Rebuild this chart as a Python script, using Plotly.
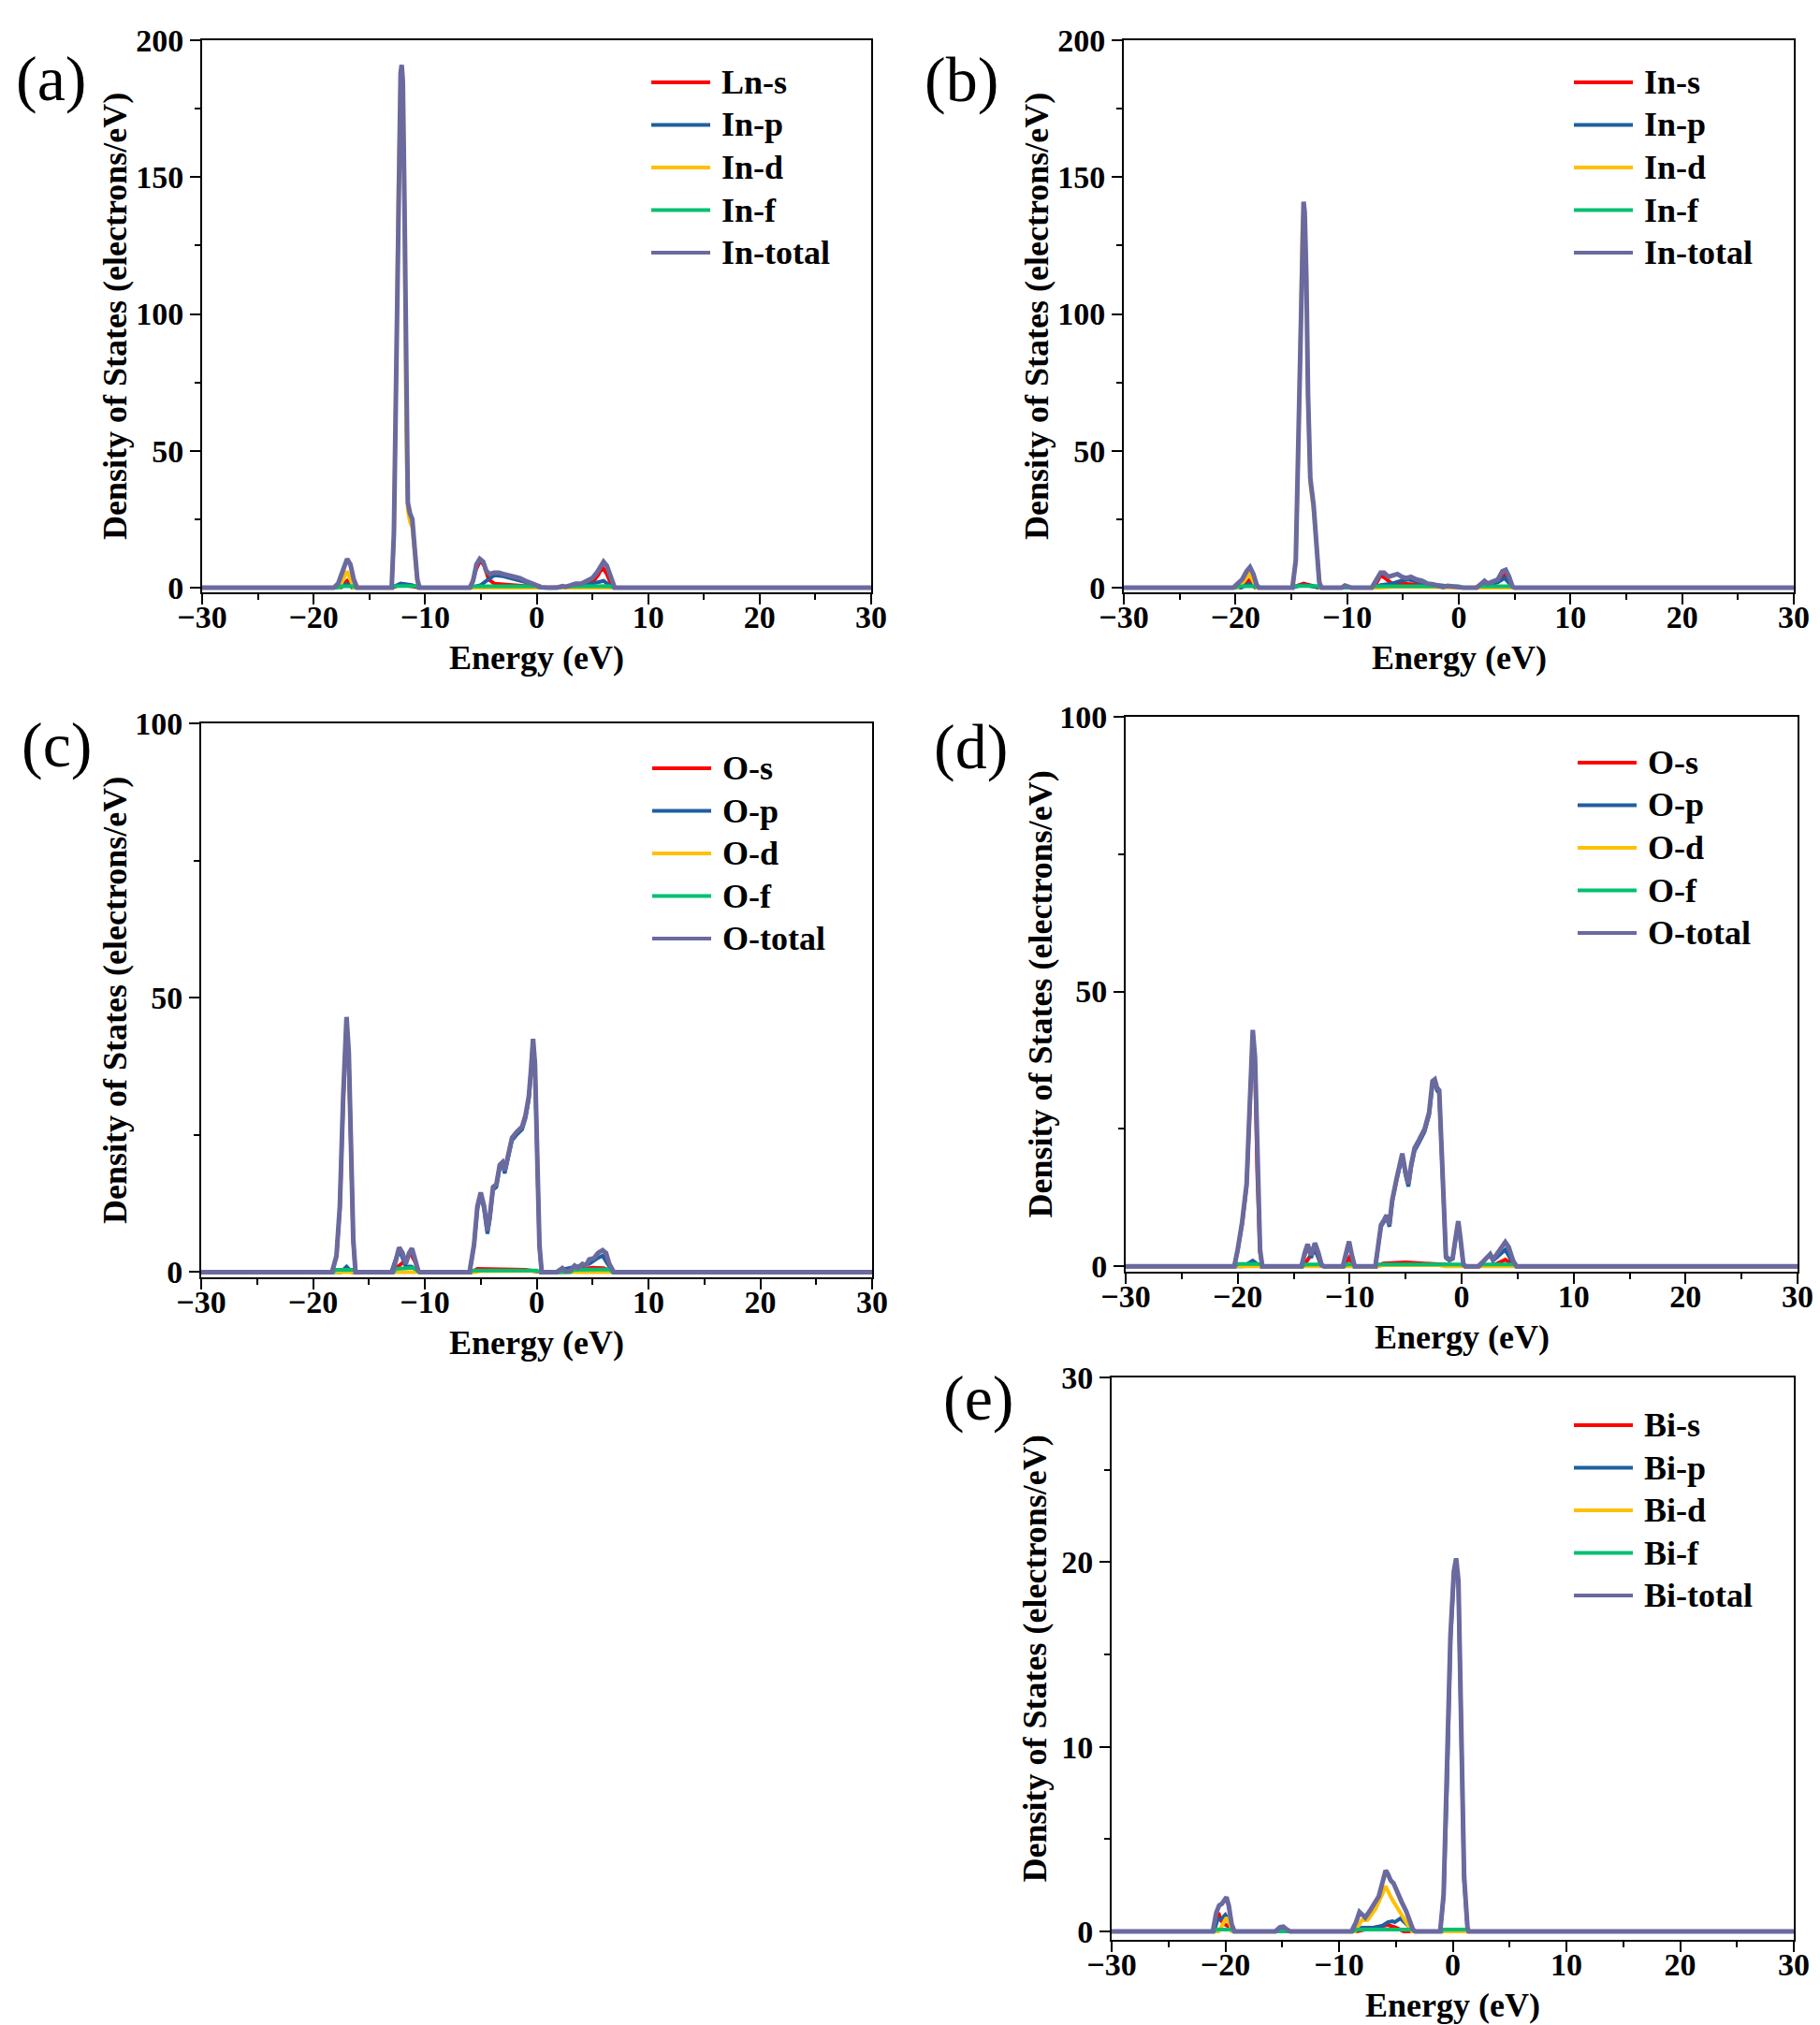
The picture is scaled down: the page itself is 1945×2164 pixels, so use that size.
import plotly.graph_objects as go

W, H = 1945, 2164
FONT = "Liberation Serif"
COLORS = ["#FF0000", "#1F5FA0", "#FFC000", "#00C070", "#6A6A9E"]
WIDTHS = [4, 4, 4, 4, 5]

# ---------------- (a) In ----------------
a_names = ["Ln-s", "In-p", "In-d", "In-f", "In-total"]
a_s_E = [-30, -17.6, -17.0, -16.5, -13, -12.2, -11.2, -10.5, -5.9, -5.4, -5.05, -4.7, -4.3, -3.8, -3, -2, -1, 0, 0.5,
         2, 3, 4, 5, 5.5, 5.9, 6.3, 6.8, 30]
a_s = [0, 0, 2.5, 0, 0, 1, 0.5, 0, 0, 7, 10, 8, 3, 1.5, 1.2, 1.0, 0.7, 0.3, 0,
       0, 0.3, 0.8, 2, 4.5, 7.5, 5, 0, 0]
a_p_E = [-30, -17.6, -17.0, -16.5, -13, -12.2, -11.2, -10.5, -5.8, -5, -4.5, -3.8, -3.0, -2.0, -1.0, 0, 0.5,
         2, 3, 4, 5, 6, 6.8, 30]
a_p = [0, 0, 1.5, 0, 0, 1.5, 1, 0, 0, 1, 2.5, 4.5, 4.2, 3.2, 2.0, 0.7, 0,
       0, 0.5, 0.8, 1.5, 2.5, 0, 0]
a_d_E = [-30, -17.7, -17.0, -16.4, -13.0, -12.8, -12.6, -12.4, -12.2, -12.1, -12.0, -11.85, -11.7, -11.55, -11.35,
         -11.15, -10.95, -10.7, -10.5, -5.5, -5, -3, 0, 0.5, 30]
a_d = [0, 0, 6, 0, 0, 18, 77, 146, 184, 187, 181, 136, 57, 28, 24,
       22, 13, 2, 0, 0, 0.3, 0.3, 0.2, 0, 0]
a_f_E = [-30, -17.8, -17.6, -16.4, -16.2, -13.1, -12.9, -10.7, -10.5, -5.9, -5.7, 0, 0.3, 2, 2.5, 6.5, 7, 30]
a_f = [0, 0, 0.5, 0.5, 0, 0, 0.6, 0.6, 0, 0, 0.5, 0.5, 0, 0, 0.4, 0.6, 0, 0]
a_t_E = [-30, -18.2, -17.8, -17.4, -17.0, -16.7, -16.4, -16.1, -13.0, -12.8, -12.6, -12.4, -12.2, -12.1, -12.0,
         -11.85, -11.7, -11.55, -11.35, -11.15, -10.95, -10.7, -10.5, -6.0, -5.7, -5.4, -5.1, -4.8, -4.5, -4.2,
         -3.8, -3.4, -3.0, -2.5, -2.0, -1.5, -1.0, -0.5, 0.0, 0.4, 1.0, 1.8, 2.3, 2.6, 3.0, 3.5, 4.0, 4.5, 5.0,
         5.4, 5.7, 6.0, 6.3, 6.6, 7.0, 30]
a_t = [0, 0, 1.5, 6.5, 10.5, 8.5, 3, 0, 0, 20, 80, 150, 188, 191, 185,
       140, 60, 31, 27, 25, 15, 3, 0, 0, 2.5, 8.5, 10.5, 9.5, 6, 5,
       5.5, 5.5, 5, 4.5, 4, 3.5, 2.5, 1.8, 1, 0.2, 0, 0, 0.6, 0.3, 0.8, 1.5, 1.5, 2.5, 3.5,
       5.5, 7.5, 9.5, 8, 4, 0, 0]

# ---------------- (b) In ----------------
b_names = ["In-s", "In-p", "In-d", "In-f", "In-total"]
b_s_E = [-30, -19.5, -19, -18.7, -18.2, -15, -13.9, -12.5, -7.6, -7.0, -6.6, -6.0, -5, -4, -3, -2, -1, 0,
         1.8, 2.3, 3, 3.8, 4.1, 4.5, 4.8, 30]
b_s = [0, 0, 2, 3, 0, 0, 1.5, 0, 0, 4.5, 3.5, 1.5, 1.5, 1.2, 1, 0.5, 0.3, 0,
       0, 1, 1, 3, 4.5, 2, 0, 0]
b_p_E = [-30, -19.5, -18.8, -18.2, -15, -13.9, -12.5, -7.6, -7, -6, -5.2, -4.5, -4, -3, -2, -1, 0, 0.4,
         1.8, 2.3, 2.7, 3.5, 4.1, 4.6, 4.9, 30]
b_p = [0, 0, 1.5, 0, 0, 1, 0, 0, 1, 1.5, 2.5, 3.0, 2.5, 1.5, 1, 0.5, 0.2, 0,
       0, 1.8, 1, 2, 3.5, 1, 0, 0]
b_d_E = [-30, -19.8, -19.2, -18.8, -18.5, -18.1, -14.9, -14.6, -14.35, -14.15, -14.0, -13.9, -13.8, -13.65, -13.5,
         -13.3, -13.0, -12.7, -12.4, -7, -6, -3, 0, 0.4, 30]
b_d = [0, 0, 2.5, 5, 3, 0, 0, 9.5, 53, 105, 133, 138, 134, 110, 68,
       38, 28, 13, 0, 0, 0.3, 0.3, 0.2, 0, 0]
b_f_E = [-30, -20, -19.8, -18, -17.8, -14.9, -14.7, -12.4, -12.2, -7.8, -7.6, 0, 0.3, 1.5, 1.7, 4.7, 5, 30]
b_f = [0, 0, 0.5, 0.5, 0, 0, 0.6, 0.6, 0, 0, 0.5, 0.5, 0, 0, 0.5, 0.5, 0, 0]
b_t_E = [-30, -20.2, -19.8, -19.4, -19.0, -18.7, -18.4, -18.1, -17.9, -14.9, -14.6, -14.35, -14.15, -14.0, -13.9,
         -13.8, -13.65, -13.5, -13.3, -13.0, -12.7, -12.5, -12.3, -10.5, -10.2, -9.9, -9.6, -7.8, -7.4, -7.0,
         -6.7, -6.3, -5.9, -5.5, -5.1, -4.7, -4.3, -3.8, -3.3, -2.8, -2.3, -1.8, -1.4, -1.0, -0.5, 0, 0.4, 1.6,
         2.0, 2.3, 2.6, 3.0, 3.5, 3.9, 4.2, 4.5, 4.8, 5.0, 30]
b_t = [0, 0, 1.5, 3, 6, 7.5, 5, 1, 0, 0, 10, 55, 108, 136, 141,
       137, 113, 70, 40, 30, 15, 2, 0, 0, 0.8, 0.3, 0, 0, 3, 5.5,
       5.5, 4.0, 4.5, 5, 4, 3.5, 4, 3, 2.5, 1.5, 1.2, 0.5, 0.2, 0.7, 0.5, 0.2, 0, 0,
       1.2, 2.5, 1.5, 2, 3, 6, 6.5, 4, 0.5, 0, 0]

# ---------------- (c) O ----------------
c_names = ["O-s", "O-p", "O-d", "O-f", "O-total"]
c_s_E = [-30, -18.3, -17.9, -17.6, -17.3, -17.0, -16.8, -16.6, -16.4, -16.2, -12.9, -12.4, -11.8, -11.3, -10.9,
         -10.5, -5.8, -5.3, -4, -3, -1, 0, 0.4, 2, 4, 5, 6, 6.8, 30]
c_s = [0, 0, 2.8, 11.5, 31, 45.5, 39, 21, 5.5, 0, 0, 1, 2, 3.5, 2,
       0, 0, 0.6, 0.6, 0.5, 0.4, 0.2, 0, 0, 0.6, 0.8, 0.7, 0, 0]
c_p_E = [-30, -17.5, -17, -16.5, -13, -12.3, -11.7, -11.2, -10.5, -6.0, -5.6, -5.3, -5.0, -4.7, -4.4, -4.2, -3.9,
         -3.6, -3.3, -3.05, -2.85, -2.6, -2.2, -1.8, -1.3, -1.0, -0.7, -0.5, -0.32, -0.15, 0.05, 0.25, 0.45,
         2, 2.3, 3.4, 4.7, 5.5, 5.9, 6.5, 6.9, 30]
c_p = [0, 0, 1, 0, 0, 4.2, 1, 1, 0, 0, 4.8, 11.5, 14, 11.5, 7, 9.5, 15,
       15.5, 19, 19.5, 18, 20.5, 24, 25, 26, 28, 31.5, 36.5, 42, 37.5, 19.5, 4.5, 0,
       0, 0.5, 1, 1.5, 2.6, 3, 1, 0, 0]
c_d_E = [-30, -5.5, -5, 0, 0.4, 30]
c_d = [0, 0, 0.2, 0.2, 0, 0]
c_f_E = [-30, -18.2, -18, -16.3, -16.1, -12.8, -12.6, -11, -10.5, -5.9, -5.7, 0, 0.3, 3, 3.3, 6.5, 6.8, 30]
c_f = [0, 0, 0.4, 0.4, 0, 0, 0.6, 0.8, 0, 0, 0.3, 0.3, 0, 0, 0.4, 0.5, 0, 0]
c_t_E = [-30, -18.3, -17.9, -17.6, -17.3, -17.0, -16.8, -16.6, -16.4, -16.2, -12.9, -12.6, -12.3, -12.0, -11.7,
         -11.4, -11.15, -10.9, -10.6, -10.4, -6.0, -5.6, -5.3, -5.0, -4.7, -4.4, -4.2, -3.9, -3.6, -3.3, -3.05,
         -2.85, -2.6, -2.2, -1.8, -1.3, -1.0, -0.7, -0.5, -0.32, -0.15, 0.05, 0.25, 0.45, 1.8, 2.3, 2.6, 3.0,
         3.4, 3.7, 4.1, 4.4, 4.7, 5.1, 5.5, 5.9, 6.2, 6.5, 6.9, 30]
c_t = [0, 0, 3, 12, 32, 46.5, 40, 22, 6, 0, 0, 2, 4.5, 3.5, 1.5,
       3.5, 4.3, 2.5, 0.3, 0, 0, 5, 12, 14.5, 12, 7.5, 10, 15.5, 16, 19.5, 20,
       18.5, 21, 24.5, 25.5, 26.5, 28.5, 32, 37, 42.5, 38, 20, 5, 0, 0, 0.7, 0.1, 0.3,
       1.2, 0.8, 1.5, 1.2, 2.3, 2.5, 3.5, 4, 3.5, 1.5, 0, 0]

# ---------------- (d) O ----------------
d_names = ["O-s", "O-p", "O-d", "O-f", "O-total"]
d_s_E = [-30, -20.3, -20, -19.6, -19.2, -18.9, -18.65, -18.45, -18.25, -18, -17.8, -14.3, -13.8, -13.1, -12.6,
         -12.3, -10.5, -10.05, -9.6, -7.5, -7, -5, -3, -1.6, -1, 0, 0.3, 1.5, 3, 3.9, 4.5, 4.9, 30]
d_s = [0, 0, 2.8, 7.7, 14.5, 29, 42, 37, 17, 2.5, 0, 0, 1, 3.2, 0.5,
       0, 0, 1.5, 0, 0, 0.5, 0.7, 0.5, 0.3, 0.2, 0.1, 0, 0, 0.3, 1.2, 0.4, 0, 0]
d_p_E = [-30, -19.5, -18.65, -18, -14.3, -13.75, -13.45, -13.1, -12.6, -12.3, -10.6, -10.3, -10.05, -9.8, -9.55,
         -7.7, -7.45, -7.2, -6.9, -6.7, -6.45, -6.2, -5.8, -5.3, -5.0, -4.75, -4.5, -4.2, -3.8, -3.3, -2.9,
         -2.6, -2.4, -2.2, -2.0, -1.8, -1.6, -1.4, -1.1, -0.8, -0.55, -0.3, -0.1, 0.15, 0.35, 1.5, 2.3, 2.55,
         2.8, 3.5, 3.9, 4.6, 4.9, 30]
d_p = [0, 0, 1, 0, 0, 3.8, 1.5, 3.2, 0.5, 0, 0, 2.4, 4.3, 1.8, 0,
       0, 3.8, 7.2, 8.2, 9, 7.2, 11.7, 15.7, 20, 16.5, 14.5, 18, 21, 22.5, 24.5, 27.5,
       33.2, 33.5, 32, 31.5, 21.5, 7.5, 1.5, 1.0, 1.3, 4.7, 7.9, 4.7, 0.3, 0, 0, 1.6, 2,
       1, 2.4, 3.0, 0.5, 0, 0]
d_d_E = [-30, -7.5, -7, -2, -1.5, 30]
d_d = [0, 0, 0.2, 0.2, 0, 0]
d_f_E = [-30, -20.2, -20, -18, -17.8, -14.2, -14, -12.5, -12.3, -10.5, -10.3, -9.7, -9.5, -7.7, -7.5, 0, 0.3,
         1.6, 1.8, 4.7, 4.9, 30]
d_f = [0, 0, 0.4, 0.4, 0, 0, 0.3, 0.3, 0, 0, 0.3, 0.3, 0, 0, 0.3, 0.3, 0,
       0, 0.3, 0.3, 0, 0]
d_t_E = [-30, -20.3, -20.0, -19.6, -19.2, -18.9, -18.65, -18.45, -18.25, -18.0, -17.8, -14.3, -14.0, -13.75,
         -13.45, -13.1, -12.8, -12.5, -12.3, -10.6, -10.3, -10.05, -9.8, -9.55, -7.7, -7.45, -7.2, -6.9, -6.7,
         -6.45, -6.2, -5.8, -5.3, -5.0, -4.75, -4.5, -4.2, -3.8, -3.3, -2.9, -2.6, -2.4, -2.2, -2.0, -1.8,
         -1.6, -1.4, -1.1, -0.8, -0.55, -0.3, -0.1, 0.15, 0.35, 1.5, 1.9, 2.3, 2.55, 2.8, 3.1, 3.5, 3.9, 4.2,
         4.6, 4.9, 30]
d_t = [0, 0, 3, 8, 15, 30, 43, 38, 18, 3, 0, 0, 2.5, 4,
       2, 4.2, 2.5, 0.2, 0, 0, 2.5, 4.5, 2, 0, 0, 4, 7.5, 8.5, 9.3,
       7.5, 12, 16, 20.5, 17, 15, 18.5, 21.5, 23, 25, 28, 33.7, 34, 32.5, 32, 22,
       8, 1.8, 1.2, 1.5, 5, 8.2, 5, 0.5, 0, 0, 0.8, 1.8, 2.2, 1.2, 2, 3, 4.4, 3.5,
       1, 0, 0]

# ---------------- (e) Bi ----------------
e_names = ["Bi-s", "Bi-p", "Bi-d", "Bi-f", "Bi-total"]
e_s_E = [-30, -21, -20.8, -20.6, -20.4, -20.1, -19.8, -19.4, -8.5, -7.6, -7.3, -6.8, -6.1, -5.7, -5.0, -4.3,
         -1, 0.3, 1.2, 30]
e_s = [0, 0, 0.7, 1.0, 0.6, 0.4, 0.3, 0, 0, 0.1, 0.15, 0.2, 0.3, 0.35, 0.2, 0,
       0, 0.1, 0, 0]
e_p_E = [-30, -21, -20.7, -20.3, -20.0, -19.7, -19.4, -15.5, -15.2, -14.9, -14.5, -8.7, -8, -7, -6.2, -5.7,
         -5.3, -5.1, -4.6, -4.1, -3.4, -1.1, -0.8, -0.5, -0.2, 0.1, 0.3, 0.5, 0.75, 1.0, 1.3, 1.4, 30]
e_p = [0, 0, 0.6, 0.7, 0.9, 0.6, 0, 0, 0.2, 0.22, 0, 0, 0.2, 0.2, 0.3, 0.5,
       0.55, 0.5, 0.7, 0.4, 0, 0, 1.9, 7.8, 15.7, 19.2, 19.9, 18.7, 11.7, 2.8, 0.1, 0, 0]
e_d_E = [-30, -20.6, -20.3, -19.9, -19.6, -19.4, -8.6, -8, -7.5, -6.8, -6.2, -5.9, -5.4, -4.8, -4.2, -3.6, 30]
e_d = [0, 0, 0.3, 0.75, 0.4, 0, 0, 0.6, 0.6, 1.2, 2.0, 2.45, 1.8, 1.2, 0.6, 0, 0]
e_f_E = [-30, -21, -20.8, -19.4, -19.2, -8.8, -8.5, -3.5, -3.3, -1, -0.8, 1.2, 1.4, 30]
e_f = [0, 0, 0.1, 0.1, 0, 0, 0.1, 0.1, 0, 0, 0.1, 0.1, 0, 0]
e_t_E = [-30, -21.1, -20.8, -20.55, -20.3, -20.1, -19.9, -19.7, -19.45, -19.2, -15.6, -15.2, -14.9, -14.6,
         -14.3, -8.9, -8.5, -8.2, -7.95, -7.7, -7.3, -6.9, -6.5, -6.2, -5.9, -5.7, -5.45, -5.2, -4.9, -4.5,
         -4.1, -3.8, -3.5, -3.3, -1.1, -0.8, -0.5, -0.2, 0.1, 0.3, 0.5, 0.75, 1.0, 1.3, 1.4, 30]
e_t = [0, 0, 1.0, 1.4, 1.5, 1.7, 1.85, 1.4, 0.4, 0, 0, 0.22, 0.25, 0.1,
       0, 0, 0.5, 1.05, 0.9, 0.75, 1.1, 1.45, 1.9, 2.6, 3.3, 3.1, 2.75, 2.6, 2.1, 1.6,
       1.1, 0.5, 0.1, 0, 0, 2, 8, 16, 19.5, 20.2, 19, 12, 3, 0.2, 0, 0]

y_ticks_ab = [0, 50, 100, 150, 200]
y_ticks_cd = [0, 50, 100]
y_ticks_e = [0, 10, 20, 30]
x_ticks = [-30, -20, -10, 0, 10, 20, 30]

panels = [
    dict(label="(a)", names=a_names,
         series=[(a_s_E, a_s), (a_p_E, a_p), (a_d_E, a_d), (a_f_E, a_f), (a_t_E, a_t)],
         yr=[-1.7, 200], yt=y_ticks_ab, ym=25,
         box=(208, 923, 35, 625), lab=(46, 76), ytx=115, leg=45),
    dict(label="(b)", names=b_names,
         series=[(b_s_E, b_s), (b_p_E, b_p), (b_d_E, b_d), (b_f_E, b_f), (b_t_E, b_t)],
         yr=[-1.7, 200], yt=y_ticks_ab, ym=25,
         box=(1193, 1909, 35, 625), lab=(1020, 77), ytx=1100, leg=45),
    dict(label="(c)", names=c_names,
         series=[(c_s_E, c_s), (c_p_E, c_p), (c_d_E, c_d), (c_f_E, c_f), (c_t_E, c_t)],
         yr=[-0.95, 100], yt=y_ticks_cd, ym=25,
         box=(207, 924, 765, 1357), lab=(52, 788), ytx=115, leg=48),
    dict(label="(d)", names=d_names,
         series=[(d_s_E, d_s), (d_p_E, d_p), (d_d_E, d_d), (d_f_E, d_f), (d_t_E, d_t)],
         yr=[-1.0, 100], yt=y_ticks_cd, ym=25,
         box=(1195, 1913, 758, 1351), lab=(1029, 790), ytx=1104, leg=49),
    dict(label="(e)", names=e_names,
         series=[(e_s_E, e_s), (e_p_E, e_p), (e_d_E, e_d), (e_f_E, e_f), (e_t_E, e_t)],
         yr=[-0.46, 30], yt=y_ticks_e, ym=5,
         box=(1180, 1909, 1464, 2065), lab=(1037, 1486), ytx=1097, leg=51),
]

fig = go.Figure()
annotations = []
shapes = []
tickfont = dict(family=FONT, size=34, color="black", weight="bold")
labfont = dict(family=FONT, size=36, color="black", weight="bold")

for i, p in enumerate(panels, start=1):
    sfx = "" if i == 1 else str(i)
    x0, x1, y0, y1 = p["box"]
    for k, (xs, ys) in enumerate(p["series"]):
        fig.add_trace(go.Scatter(
            x=xs, y=ys, mode="lines", name=p["names"][k],
            line=dict(color=COLORS[k], width=WIDTHS[k]),
            xaxis="x" + sfx, yaxis="y" + sfx, showlegend=False,
        ))

    axis_common = dict(
        showline=True, linecolor="black", linewidth=2, mirror=True,
        ticks="outside", ticklen=11, tickwidth=2, tickcolor="black",
        showgrid=False, zeroline=False, tickfont=tickfont, automargin=False,
    )
    fig.update_layout(**{
        "xaxis" + sfx: dict(
            domain=[x0 / W, x1 / W], anchor="y" + sfx, range=[-30, 30],
            tickmode="array", tickvals=x_ticks, ticklabelstandoff=-16,
            minor=dict(dtick=5, ticks="outside", ticklen=6, tickwidth=2, tickcolor="black"),
            **axis_common),
        "yaxis" + sfx: dict(
            domain=[1 - y1 / H, 1 - y0 / H], anchor="x" + sfx, range=p["yr"],
            tickmode="array", tickvals=p["yt"],
            minor=dict(dtick=p["ym"], tick0=0, ticks="outside", ticklen=6, tickwidth=2, tickcolor="black"),
            **axis_common),
    })

    # axis titles and panel label
    annotations.append(dict(
        text="Energy (eV)", x=(x0 + x1) / 2 / W, y=1 - (y1 + 70) / H,
        xref="paper", yref="paper", xanchor="center", yanchor="middle",
        showarrow=False, font=labfont))
    annotations.append(dict(
        text="Density of States (electrons/eV)", textangle=-90,
        x=p["ytx"] / W, y=1 - (y0 + y1) / 2 / H,
        xref="paper", yref="paper", xanchor="center", yanchor="middle",
        showarrow=False, font=labfont))
    annotations.append(dict(
        text=p["label"], x=p["lab"][0] / W, y=1 - p["lab"][1] / H,
        xref="paper", yref="paper", xanchor="center", yanchor="middle",
        showarrow=False, font=dict(family=FONT, size=68, color="black")))

    # legend block in the upper right of each panel
    lx = x1 - 235
    for k, name in enumerate(p["names"]):
        ly = y0 + p["leg"] + k * 45.5
        shapes.append(dict(
            type="line", xref="paper", yref="paper",
            x0=lx / W, x1=(lx + 63) / W, y0=1 - ly / H, y1=1 - ly / H,
            line=dict(color=COLORS[k], width=4)))
        annotations.append(dict(
            text=name, x=(lx + 73) / W, y=1 - ly / H,
            xref="paper", yref="paper", xanchor="left", yanchor="middle",
            showarrow=False, font=labfont))

fig.update_layout(
    width=W, height=H, autosize=False,
    margin=dict(l=0, r=0, t=0, b=0, pad=0, autoexpand=False),
    paper_bgcolor="white", plot_bgcolor="white",
    showlegend=False,
    annotations=annotations, shapes=shapes,
)

fig.write_html("out.html")
